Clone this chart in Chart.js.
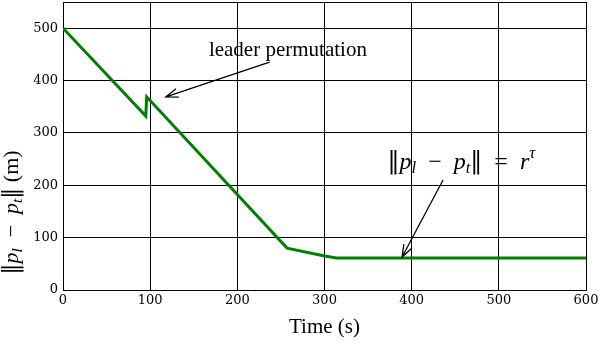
<!DOCTYPE html>
<html>
<head>
<meta charset="utf-8">
<script src="https://cdn.jsdelivr.net/npm/chart.js@4"></script>
<style>
  html, body { margin: 0; padding: 0; background: #fff; }
  #wrap { width: 600px; height: 344px; }
</style>
</head>
<body>
<div id="wrap"><canvas id="distChart"></canvas></div>
<script>
// time (s) and distance ||p_l - p_t|| (m)
const timeVals = [0, 95, 96, 257, 300, 314, 600];
const distVals = [500, 332, 369, 80, 65, 61, 61];
const xTicks = [0, 100, 200, 300, 400, 500, 600];
const yTicks = [0, 100, 200, 300, 400, 500];

// math text as runs: it = italic, sub / sup = small and shifted, dv = DejaVu glyph
const normRuns = [
  { t: '\u2016', dv: 1 }, { t: 'p', it: 1 }, { t: 'l', it: 1, sub: 1 },
  { t: '  \u2212  ' }, { t: 'p', it: 1 }, { t: 't', it: 1, sub: 1 }, { t: '\u2016', dv: 1 }
];
const yTitleRuns = normRuns.concat([{ t: ' (m)' }]);
const noteRuns = normRuns.concat([{ t: '  =  ' }, { t: 'r', it: 1 }, { t: '\u03C4', it: 1, sup: 1 }]);

// annotation text + arrows, in data units
const notes = [
  { runs: [{ t: 'leader permutation' }], size: 21, x: 258, y: 458, from: [237, 435], to: [118, 369] },
  { runs: noteRuns, size: 24, x: 457, y: 244, from: [436, 210], to: [389, 63] }
];

const serif = '"Liberation Serif", "DejaVu Serif", serif';
const digits = '"DejaVu Serif", serif';

function runFont(r, size) {
  const s = (r.sub || r.sup) ? size * 0.7 : size;
  return (r.it ? 'italic ' : '') + s + 'px ' + (r.dv ? digits : serif);
}

function runsWidth(ctx, runs, size) {
  let w = 0;
  runs.forEach(r => { ctx.font = runFont(r, size); w += ctx.measureText(r.t).width; });
  return w;
}

// draws runs centred on (0,0) of the current transform
function drawRuns(ctx, runs, size) {
  let x = -runsWidth(ctx, runs, size) / 2;
  ctx.textAlign = 'left';
  ctx.textBaseline = 'middle';
  runs.forEach(r => {
    ctx.font = runFont(r, size);
    let dy = 0;
    if (r.sub) dy = size * 0.25;
    if (r.sup) dy = -size * 0.35;
    ctx.fillText(r.t, x, dy);
    x += ctx.measureText(r.t).width;
  });
}

const notePlugin = {
  id: 'notes',
  afterDraw(chart) {
    const ctx = chart.ctx;
    const xs = chart.scales.x, ys = chart.scales.y;
    ctx.save();
    ctx.fillStyle = '#000';

    // y axis title
    ctx.save();
    ctx.translate(12, ys.getPixelForValue(148));
    ctx.rotate(-Math.PI / 2);
    drawRuns(ctx, yTitleRuns, 22);
    ctx.restore();

    notes.forEach(n => {
      ctx.save();
      ctx.translate(xs.getPixelForValue(n.x), ys.getPixelForValue(n.y));
      drawRuns(ctx, n.runs, n.size);
      ctx.restore();

      const x1 = xs.getPixelForValue(n.from[0]), y1 = ys.getPixelForValue(n.from[1]);
      const x2 = xs.getPixelForValue(n.to[0]), y2 = ys.getPixelForValue(n.to[1]);
      ctx.strokeStyle = '#000';
      ctx.lineWidth = 1.3;
      ctx.beginPath();
      ctx.moveTo(x1, y1);
      ctx.lineTo(x2, y2);
      const a = Math.atan2(y2 - y1, x2 - x1);
      const len = 13;
      ctx.moveTo(x2 - len * Math.cos(a - 0.35), y2 - len * Math.sin(a - 0.35));
      ctx.lineTo(x2, y2);
      ctx.lineTo(x2 - len * Math.cos(a + 0.35), y2 - len * Math.sin(a + 0.35));
      ctx.stroke();
    });
    ctx.restore();
  }
};

const ctx = document.getElementById('distChart').getContext('2d');
new Chart(ctx, {
  type: 'scatter',
  data: {
    datasets: [{
      data: timeVals.map((t, i) => ({ x: t, y: distVals[i] })),
      showLine: true,
      borderColor: '#008000',
      borderWidth: 3,
      pointRadius: 0,
      tension: 0
    }]
  },
  options: {
    responsive: true,
    maintainAspectRatio: false,
    animation: false,
    layout: { padding: { top: 2, right: 14, left: 0, bottom: 0 } },
    plugins: { legend: { display: false }, tooltip: { enabled: false } },
    scales: {
      x: {
        type: 'linear',
        min: 0, max: 600,
        afterBuildTicks: s => { s.ticks = xTicks.map(v => ({ value: v })); },
        afterFit: s => { s.height = 54; s.paddingLeft = 0; s.paddingRight = 0; },
        ticks: { color: '#000', font: { family: digits, size: 13 }, padding: 3, maxRotation: 0 },
        grid: { color: '#000', lineWidth: 1, tickLength: 0 },
        border: { color: '#000', width: 1 },
        title: { display: true, text: 'Time (s)', color: '#000', font: { family: serif, size: 21 }, padding: { top: 10 } }
      },
      y: {
        min: 0, max: 550,
        afterBuildTicks: s => { s.ticks = yTicks.concat([550]).map(v => ({ value: v })); },
        afterFit: s => { s.width = 63; s.paddingTop = 0; s.paddingBottom = 0; },
        ticks: {
          color: '#000', font: { family: digits, size: 13 }, padding: 5,
          callback: v => (v === 550 ? '' : v)
        },
        grid: { color: '#000', lineWidth: 1, tickLength: 0 },
        border: { color: '#000', width: 1 }
      }
    }
  },
  plugins: [notePlugin]
});
</script>
</body>
</html>
